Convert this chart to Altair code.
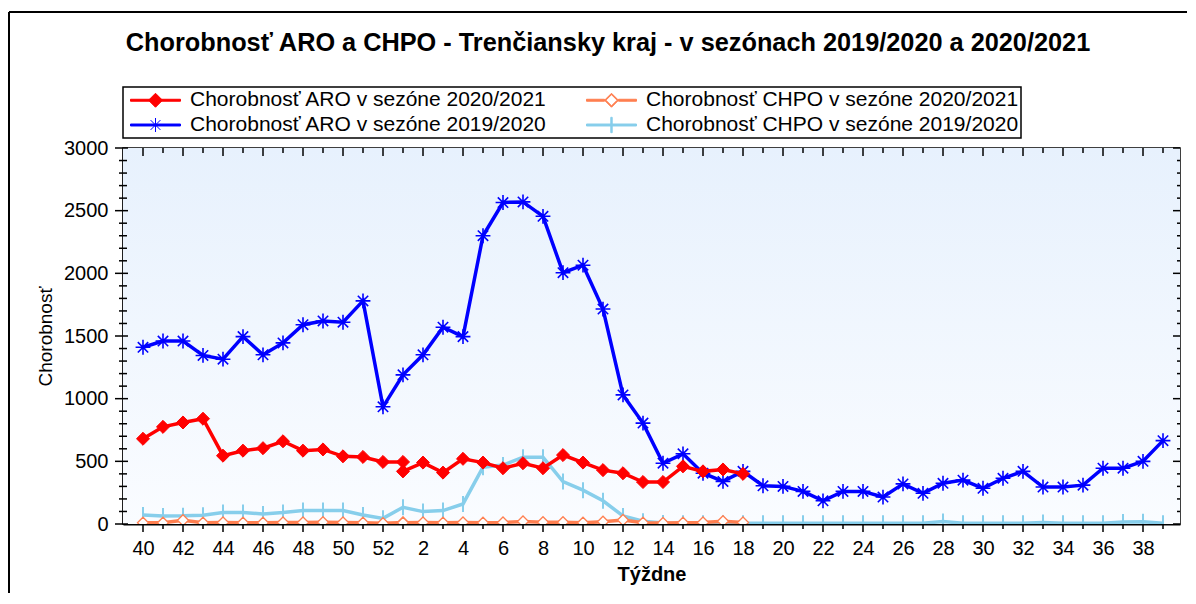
import altair as alt
import pandas as pd

# ---------------- data ----------------
weeks_axis = list(range(40, 53)) + list(range(1, 40))          # 2019/2020 season weeks
weeks_2021 = list(range(40, 53)) + [53] + list(range(1, 19))   # 2020/2021 season weeks (has week 53)

aro_1920 = [1410, 1460, 1460, 1345, 1315, 1495, 1350, 1445, 1590, 1620, 1610, 1780, 935,
            1190, 1350, 1570, 1495, 2300, 2565, 2570, 2455, 2005, 2065, 1715, 1030, 805, 485,
            560, 405, 340, 420,
            305, 300, 260, 185, 260, 260, 215, 320, 245, 325, 350, 285, 365, 420, 295, 295,
            310, 445, 445, 500, 665]
chpo_1920 = [72, 64, 65, 70, 91, 91, 80, 91, 107, 107, 107, 72, 45,
             133, 99, 107, 160, 453, 470, 533, 533, 339, 270, 185, 64, 22,
             8, 6, 6, 6, 6, 6, 6, 6, 6, 6, 6, 6, 6, 6, 20, 6, 6, 6, 6, 12, 6, 6, 6, 15, 18, 6]
aro_2021 = [680, 775, 810, 840, 545, 585, 605, 660, 585, 595, 540, 535, 495,
            495,
            420, 490, 410, 520, 490, 445, 485, 445, 550, 490, 430, 405, 335, 335, 460, 420, 435, 400]
chpo_2021 = [10, 10, 30, 10, 12, 10, 10, 12, 12, 14, 12, 10, 6,
             12,
             10, 12, 10, 12, 10, 12, 20, 14, 14, 10, 18, 32, 10, 8, 10, 12, 22, 12]

series_names = ["Chorobnosť ARO v sezóne 2020/2021", "Chorobnosť CHPO v sezóne 2020/2021",
                "Chorobnosť ARO v sezóne 2019/2020", "Chorobnosť CHPO v sezóne 2019/2020"]
series_colors = ["#FF0000", "#FF7F50", "#0000FF", "#87CEEB"]

y_major = list(range(0, 3001, 500))
y_minor = [v for v in range(0, 3001, 100) if v % 500]

# ---------------- layout / style ----------------
W, H = 1057, 376
FONT = "Liberation Sans"

STAR = "M0,-1L0,1M-1,0L1,0M-0.7,-0.7L0.7,0.7M-0.7,0.7L0.7,-0.7"
VTICK = "M0,-1L0,1"
LINE_L = "M-3.57,-0.14L-1,-0.14L-1,0.14L-3.57,0.14Z"
LINE_R = "M1,-0.14L3.57,-0.14L3.57,0.14L1,0.14Z"
LINE_F = "M-3.57,-0.14L3.57,-0.14L3.57,0.14L-3.57,0.14Z"
legend_paths = [
    LINE_F + "M-1,0L0,-1L1,0L0,1Z",
    LINE_L + LINE_R + "M-1,0L0,-1L1,0L0,1ZM-0.8,0L0,0.8L0.8,0L0,-0.8Z",
    LINE_F + STAR,
    LINE_F + "M-0.1,-1.1L0.1,-1.1L0.1,1.1L-0.1,1.1Z",
]
# legend fills column by column: order entries so rows read as in the original
leg_order = [0, 2, 1, 3]
leg_names = [series_names[i] for i in leg_order]
leg_colors = [series_colors[i] for i in leg_order]
leg_paths = [legend_paths[i] for i in leg_order]

pos_of = {w: i for i, w in enumerate(weeks_axis)}
pos_of[53] = pos_of[1]

rows = []
def add(name, weeks, vals):
    for k, (w, v) in enumerate(zip(weeks, vals)):
        rows.append({"series": name, "week": w, "pos": pos_of[w], "value": v, "seq": k})

add(series_names[0], weeks_2021, aro_2021)
add(series_names[1], weeks_2021, chpo_2021)
add(series_names[2], weeks_axis, aro_1920)
add(series_names[3], weeks_axis, chpo_1920)
df = pd.DataFrame(rows)

xt = pd.DataFrame({"pos": list(range(len(weeks_axis)))})
xt_major = xt[xt.pos % 2 == 0]
xt_minor = xt[xt.pos % 2 == 1]
yt_major = pd.DataFrame({"value": y_major})
yt_minor = pd.DataFrame({"value": y_minor})

x_enc = alt.X("pos:Q",
              scale=alt.Scale(domain=[-1, 51.85], nice=False, zero=False),
              axis=alt.Axis(values=list(range(0, len(weeks_axis), 2)),
                            labelExpr=f"{weeks_axis}[datum.value]",
                            title="Týždne", titleFontWeight="bold", titleFontSize=20,
                            titlePadding=6, labelFontSize=20, labelPadding=14,
                            ticks=False, tickSize=0, grid=False, labelFlush=False,
                            labelOverlap=False, domainColor="black", domainWidth=2))
y_enc = alt.Y("value:Q",
              scale=alt.Scale(domain=[0, 3000], nice=False, zero=True),
              axis=alt.Axis(values=y_major, format="d", title="Chorobnosť",
                            titleFontWeight="normal",
                            titleFontSize=19, titlePadding=8, labelFontSize=20,
                            labelPadding=15, ticks=False, tickSize=0, grid=False,
                            labelFlush=False, labelOverlap=False,
                            domainColor="black", domainWidth=2))

one = alt.Data(values=[{}])

legend_def = alt.Legend(orient="none", legendX=0, legendY=-61, columns=2, title=None,
                        strokeColor="black", fillColor="white", padding=2.5,
                        rowPadding=3, columnPadding=34, labelFontSize=21, labelFont=FONT,
                        labelColor="black", labelLimit=0, symbolSize=196,
                        symbolStrokeWidth=1, symbolOffset=19.5, labelOffset=24)

leg = alt.Chart(pd.DataFrame({"series": leg_names})).mark_point(
    filled=True, size=196, opacity=1).encode(
    x=alt.value(528), y=alt.value(200),
    fill=alt.Fill("series:N", scale=alt.Scale(domain=leg_names, range=leg_colors), legend=legend_def),
    stroke=alt.Stroke("series:N", scale=alt.Scale(domain=leg_names, range=leg_colors), legend=legend_def),
    shape=alt.Shape("series:N", scale=alt.Scale(domain=leg_names, range=leg_paths), legend=legend_def),
)

bg = alt.Chart(one).mark_rect(
    color=alt.Gradient(gradient="linear",
                       stops=[alt.GradientStop(color="#E7F1FD", offset=0),
                              alt.GradientStop(color="#FAFCFF", offset=1)],
                       x1=0, x2=0, y1=0, y2=1)
).encode(x=alt.value(0), x2=alt.value(W), y=alt.value(0), y2=alt.value(H))

frame_top = alt.Chart(one).mark_rule(color="black", strokeWidth=2).encode(
    x=alt.value(-114), x2=alt.value(1064), y=alt.value(-136))
frame_left = alt.Chart(one).mark_rule(color="black", strokeWidth=2).encode(
    x=alt.value(-114), y=alt.value(-136), y2=alt.value(445))

def xtick(data, size, yv):
    return alt.Chart(data).mark_tick(orient="vertical", size=size, thickness=1.5,
                                     color="black", opacity=1).encode(x=x_enc, y=alt.value(yv))

def ytick(data, size, xv):
    return alt.Chart(data).mark_tick(orient="horizontal", size=size, thickness=1.5,
                                     color="black", opacity=1).encode(y=y_enc, x=alt.value(xv))

ticks = [
    xtick(xt_major, 8, H + 4), xtick(xt_minor, 5, H + 2.5),
    xtick(xt_major, 8, 4), xtick(xt_minor, 5, 2.5),
    ytick(yt_major, 13, -1.5), ytick(yt_minor, 8, 0),
    ytick(yt_major, 7, W - 3.5), ytick(yt_minor, 3, W - 1.5),
]

marker_props = {
    series_names[0]: dict(shape="diamond", filled=True, fill="#FF0000", stroke="#FF0000",
                          strokeWidth=1, size=170),
    series_names[1]: dict(shape="diamond", filled=True, fill="white", stroke="#FF7F50",
                          strokeWidth=1.3, size=121),
    series_names[2]: dict(shape=STAR, filled=False, stroke="#0000FF", strokeWidth=1.6, size=220),
    series_names[3]: dict(shape=VTICK, filled=False, stroke="#87CEEB", strokeWidth=2, size=256),
}

series_layers = []
for idx in [3, 2, 1, 0]:
    name = series_names[idx]
    base = alt.Chart(df).transform_filter(alt.datum.series == name)
    series_layers.append(base.mark_line(color=series_colors[idx], strokeWidth=3.5, clip=True).encode(
        x=x_enc, y=y_enc, order="seq:Q"))
    series_layers.append(base.mark_point(opacity=1, clip=True, **marker_props[name]).encode(
        x=x_enc, y=y_enc))

chart = alt.layer(leg, bg, frame_top, frame_left, *ticks, *series_layers).properties(
    width=W, height=H,
    padding={"left": 0, "top": 3, "right": 0, "bottom": 0},
    title=alt.Title("Chorobnosť ARO a CHPO - Trenčiansky kraj  - v sezónach 2019/2020 a 2020/2021",
                    font=FONT, fontSize=25.3, fontWeight="bold", color="black",
                    anchor="middle", offset=0, dy=65, dx=-43.5, baseline="alphabetic"),
).configure_view(stroke="black", strokeWidth=1.5).configure_axis(
    labelFont=FONT, titleFont=FONT, labelColor="black", titleColor="black"
).configure_legend(strokeWidth=1.5)

chart.save("out.html", embed_options={"renderer": "svg", "actions": False})
